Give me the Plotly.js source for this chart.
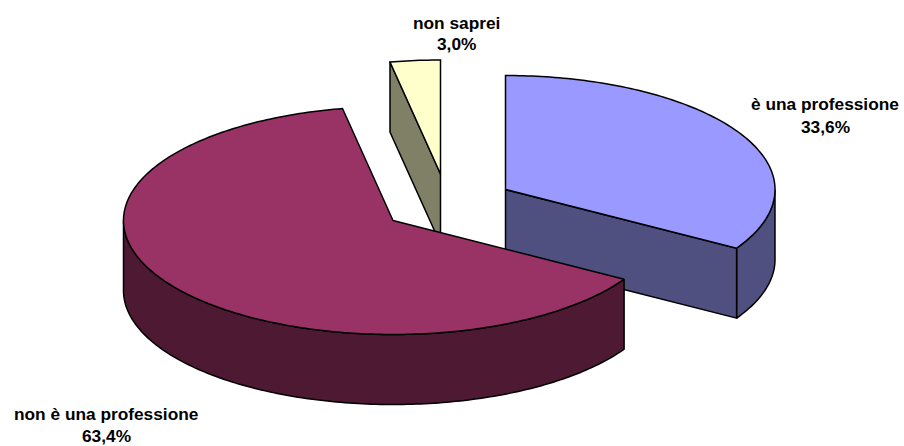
<!DOCTYPE html>
<html><head><meta charset="utf-8">
<script src="https://cdn.plot.ly/plotly-3.0.0.min.js"></script>
<style>html,body{margin:0;padding:0;background:#fff}#c{width:904px;height:446px}</style>
</head><body><div id="c"></div>
<script>
// Data
const categories = ['è una professione', 'non è una professione', 'non saprei'];
const values = [33.6, 63.4, 3.0];
const valueLabels = ['33,6%', '63,4%', '3,0%'];
const topColors = ['#9999FF', '#993366', '#FFFFCC'];
const sideColors = ['#4F4F80', '#4D1933', '#808066'];

// Pie projection (in plot units)
const RX = 269.5, RY = 114, DEPTH = 70;
const apexX = [505.5, 393, 440.5];
const apexY = [189.5, 220.5, 174];
const labelX = [825, 106, 456];
const labelY = [[104, 127], [414, 436], [23, 44]];

const total = values.reduce((a, b) => a + b, 0);
let acc = 0;
const slices = values.map((v, i) => {
  const a0 = acc / total * 2 * Math.PI;
  acc += v;
  return {i, a0, a1: acc / total * 2 * Math.PI};
});
const rim = (s, a, dy = 0) => [apexX[s.i] + RX * Math.sin(a), apexY[s.i] - RY * Math.cos(a) + dy];
function arc(s, from, to, dy = 0) {
  const n = Math.max(2, Math.ceil(Math.abs(to - from) * 60));
  const out = [];
  for (let k = 0; k <= n; k++) out.push(rim(s, from + (to - from) * k / n, dy));
  return out;
}
function poly(pts, color) {
  const closed = pts.concat([pts[0]]);
  return {
    type: 'scatter', mode: 'lines', fill: 'toself', fillcolor: color,
    x: closed.map(p => p[0]), y: closed.map(p => p[1]),
    line: {color: '#000', width: 1.5, simplify: false},
    hoverinfo: 'skip', showlegend: false
  };
}
const apex = (s, dy = 0) => [apexX[s.i], apexY[s.i] + dy];
const [blue, red, yellow] = slices;

// Clip a slice's outer wall to its front half (angles between 90° and 270° face the viewer)
function wall(s) {
  const from = Math.max(s.a0, Math.PI / 2), to = Math.min(s.a1, 3 * Math.PI / 2);
  if (to <= from) return null;
  return poly(arc(s, from, to).concat(arc(s, to, from, DEPTH)), sideColors[s.i]);
}

const traces = [];
// yellow: inner cut face, then top
traces.push(poly([rim(yellow, yellow.a0), apex(yellow), apex(yellow, DEPTH), rim(yellow, yellow.a0, DEPTH)], sideColors[2]));
traces.push(poly([apex(yellow)].concat(arc(yellow, yellow.a0, yellow.a1)), topColors[2]));
// blue: outer wall, cut face, top
traces.push(wall(blue));
traces.push(poly([apex(blue), rim(blue, blue.a1), rim(blue, blue.a1, DEPTH), apex(blue, DEPTH)], sideColors[0]));
traces.push(poly([apex(blue)].concat(arc(blue, blue.a0, blue.a1)), topColors[0]));
// red: outer wall, top
traces.push(wall(red));
traces.push(poly([apex(red)].concat(arc(red, red.a0, red.a1)), topColors[1]));

const font = {family: '"Liberation Sans", Arial, sans-serif', size: 17.3, color: '#000', weight: 700};
const annotations = [];
categories.forEach((c, i) => {
  annotations.push({x: labelX[i], y: labelY[i][0], text: '<b>' + c + '</b>', showarrow: false, xanchor: 'center', yanchor: 'middle', font});
  annotations.push({x: labelX[i], y: labelY[i][1], text: '<b>' + valueLabels[i] + '</b>', showarrow: false, xanchor: 'center', yanchor: 'middle', font});
});

Plotly.newPlot('c', traces.filter(Boolean), {
  width: 904, height: 446,
  margin: {l: 0, r: 0, t: 0, b: 0},
  paper_bgcolor: '#fff', plot_bgcolor: '#fff',
  xaxis: {range: [0, 904], visible: false, fixedrange: true},
  yaxis: {range: [446, 0], visible: false, fixedrange: true},
  annotations, showlegend: false, hovermode: false
}, {staticPlot: true, displayModeBar: false});
</script></body></html>
